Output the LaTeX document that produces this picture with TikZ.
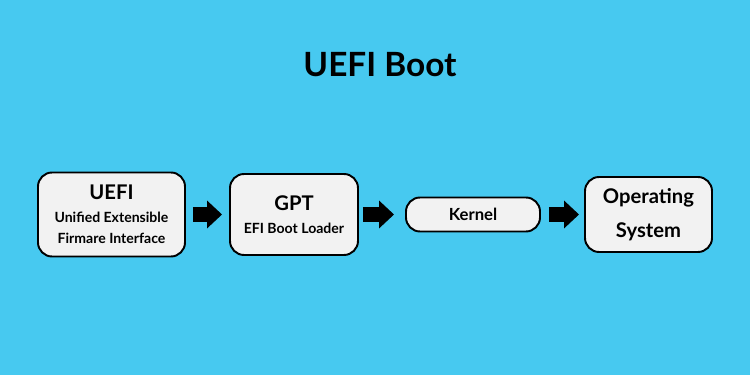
\documentclass[tikz,border=0pt]{standalone}
\usepackage{fontspec}
\setmainfont{Lato}
\usepackage{xcolor}
\usetikzlibrary{arrows.meta, positioning}
\definecolor{skyblue}{RGB}{71, 201, 240}
\definecolor{boxgray}{RGB}{242, 242, 242}

\begin{document}
\begin{tikzpicture}[
    stage/.style={rectangle, draw=black, fill=boxgray, line width=1.1pt,
                  align=center, rounded corners=8pt, inner sep=2pt},
    head/.style={font=\fontsize{11.5}{19}\selectfont\bfseries},
    bigarrow/.style={line width=0.3cm, black,
                     -{Triangle[length=0.3cm, width=0.54cm]}}
]

% Background
\fill[skyblue] (0,0) rectangle (15,7.5);
\useasboundingbox (0,0) rectangle (15,7.5);

% Title
\node[font=\fontsize{19}{22}\selectfont\bfseries] (title) at (7.6, 6.2) {UEFI Boot};

% Stages
\node[stage, minimum width=2.94cm, minimum height=1.68cm] (uefi) at (2.23, 3.21)
    {{\fontsize{11.5}{14}\selectfont\bfseries UEFI}\\[1pt]
     {\fontsize{8}{12.5}\selectfont\bfseries Unified Extensible}\\
     {\fontsize{8}{12.5}\selectfont\bfseries Firmare Interface}};
\node[stage, minimum width=2.56cm, minimum height=1.62cm] (gpt) at (5.88, 3.21)
    {{\fontsize{11.5}{14}\selectfont\bfseries GPT}\\[1pt]
     {\fontsize{8}{12.5}\selectfont\bfseries EFI Boot Loader}};
\node[stage, head, minimum width=2.68cm, minimum height=0.68cm] (kernel) at (9.46, 3.21)
    {\fontsize{9.5}{11}\selectfont Kernel};
\node[stage, head, minimum width=2.54cm, minimum height=1.5cm] (os) at (12.97, 3.21)
    {Operating\\System};

% Flow
\draw[bigarrow, shorten <=0.14cm, shorten >=0.14cm] (uefi.east) -- (gpt.west);
\draw[bigarrow, shorten <=0.08cm, shorten >=0.22cm] (gpt.east) -- (kernel.west);
\draw[bigarrow, shorten <=0.16cm, shorten >=0.10cm] (kernel.east) -- (os.west);

\end{tikzpicture}
\end{document}
